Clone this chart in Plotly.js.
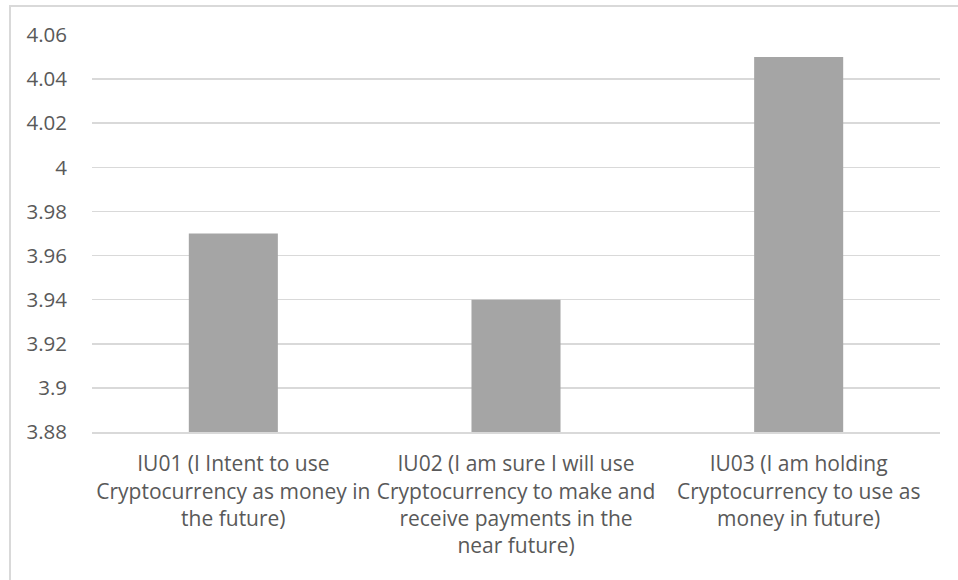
<!DOCTYPE html>
<html>
<head>
<meta charset="utf-8">
<script src="https://cdn.plot.ly/plotly-3.0.1.min.js"></script>
<style>
html,body{margin:0;padding:0;background:#fff;overflow:hidden;}
#chart{width:958px;height:580px;position:relative;}
#frame{position:absolute;left:9px;top:5px;width:980px;height:600px;border:2px solid #D9D9D9;box-sizing:border-box;pointer-events:none;}
</style>
</head>
<body>
<div id="chart"></div>
<div id="frame"></div>
<script>
const categories = [
  "IU01 (I Intent to use<br>Cryptocurrency as money in<br>the future)",
  "IU02 (I am sure I will use<br>Cryptocurrency to make and<br>receive payments in the<br>near future)",
  "IU03 (I am holding<br>Cryptocurrency to use as<br>money in future)"
];
const values = [3.97, 3.94, 4.05];
const yRange = [3.88, 4.06];
const yStep = 0.02;

const fontFamily = "Open Sans, Lato, sans-serif";

Plotly.newPlot("chart", [{
  type: "bar",
  x: categories,
  y: values,
  marker: {color: "#A5A5A5"},
  hoverinfo: "skip"
}], {
  width: 958,
  height: 580,
  margin: {l: 92, r: 18, t: 35, b: 148},
  paper_bgcolor: "#fff",
  plot_bgcolor: "#fff",
  bargap: 0.685,
  showlegend: false,
  font: {family: fontFamily, size: 21, color: "#595959"},
  xaxis: {
    showgrid: false,
    showline: true,
    linecolor: "#D9D9D9",
    linewidth: 2,
    ticks: "",
    tickangle: 0,
    ticklabelstandoff: 12,
    tickfont: {family: fontFamily, size: 21, color: "#595959"},
    automargin: false
  },
  yaxis: {
    range: yRange,
    dtick: yStep,
    tick0: yRange[0],
    showgrid: true,
    gridcolor: "#D9D9D9",
    gridwidth: 1.5,
    zeroline: false,
    showline: false,
    ticks: "",
    ticklabelstandoff: 24,
    tickfont: {family: fontFamily, size: 20.5, color: "#595959"},
    automargin: false
  }
}, {staticPlot: true, displayModeBar: false});
</script>
</body>
</html>
